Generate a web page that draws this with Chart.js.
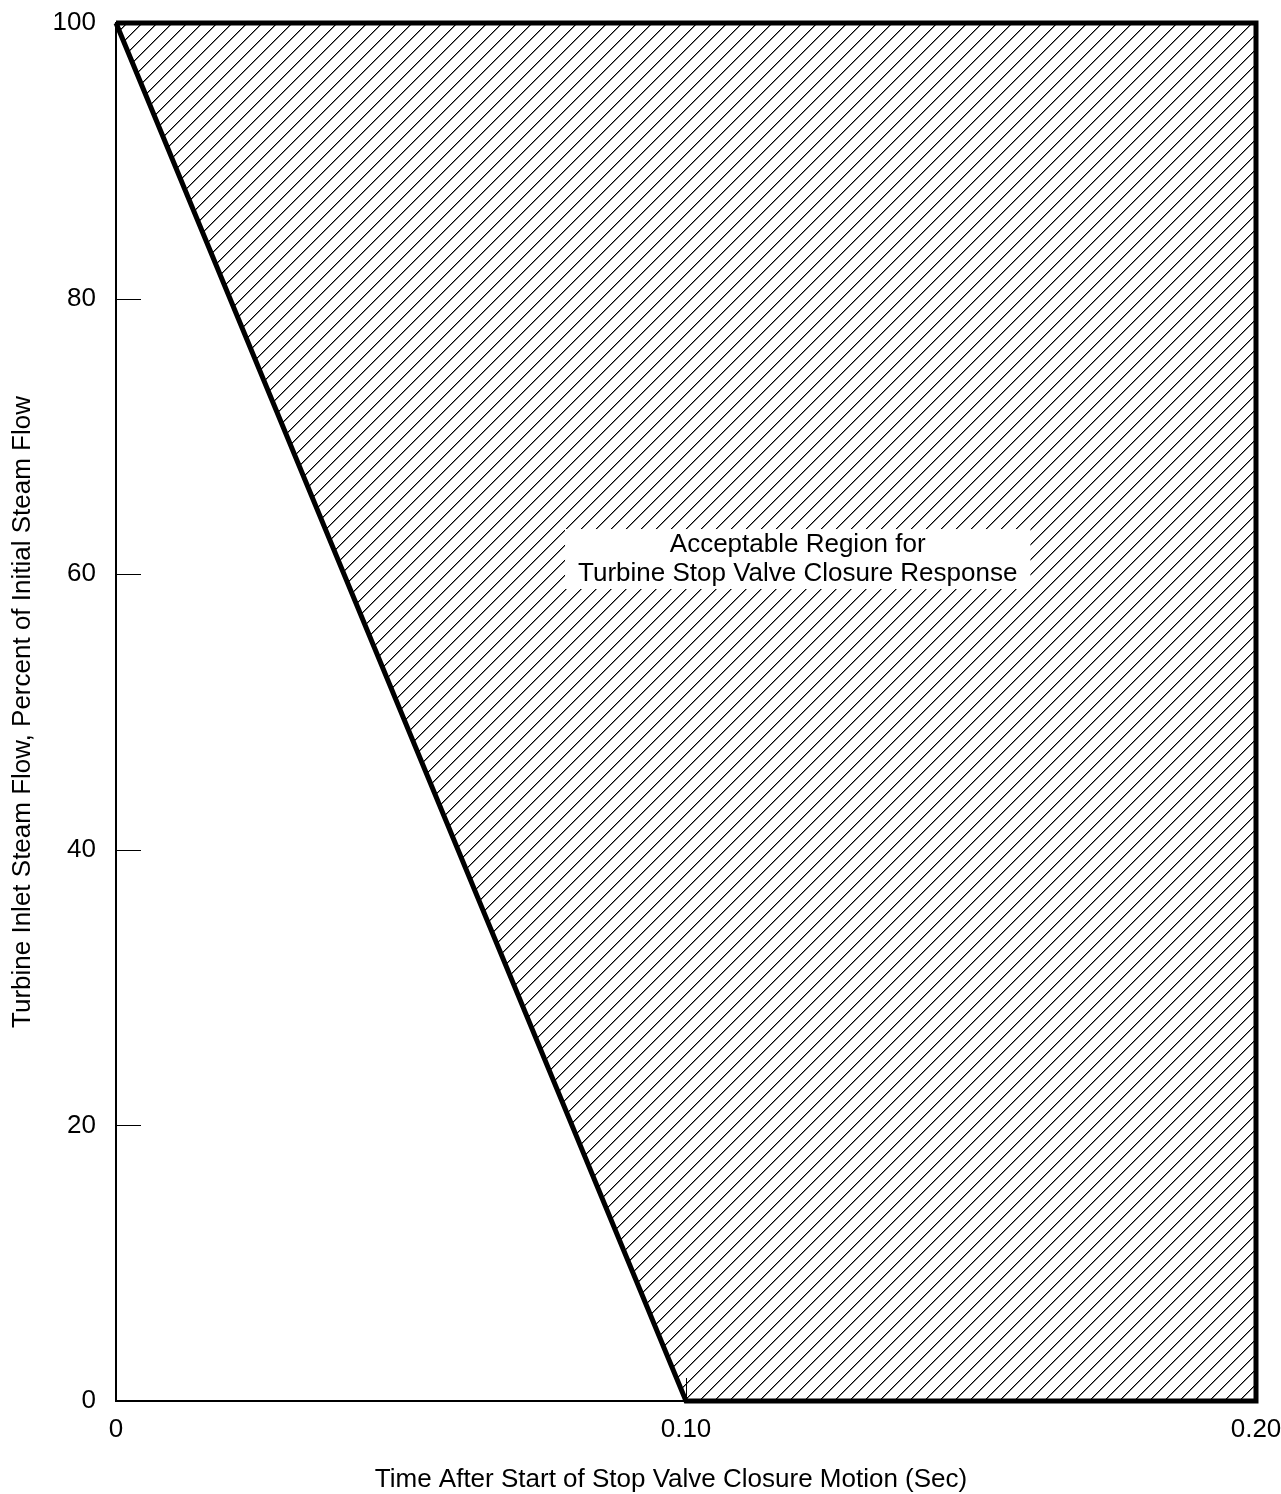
<!DOCTYPE html>
<html>
<head>
<meta charset="utf-8">
<script src="https://cdn.jsdelivr.net/npm/chart.js@4/dist/chart.umd.min.js"></script>
<style>
  html, body { margin: 0; padding: 0; background: #fff; }
  #wrap { width: 1281px; height: 1494px; position: relative; }
</style>
</head>
<body>
<div id="wrap"><canvas id="c" width="1281" height="1494"></canvas></div>
<script>
// Boundary of the acceptable closure-response region (time in s, flow in %)
const regionTime = [0, 0.20, 0.20, 0.10, 0];
const regionFlow = [100, 100, 0, 0, 100];

// Axis ticks
const timeTicks = [0, 0.10, 0.20];
const timeTickLabels = ['0', '0.10', '0.20'];
const flowTicks = [0, 20, 40, 60, 80, 100];
const flowTickLabels = ['0', '20', '40', '60', '80', '100'];

// Texts
const xTitle = 'Time After Start of Stop Valve Closure Motion (Sec)';
const yTitle = 'Turbine Inlet Steam Flow, Percent of Initial Steam Flow';
const regionLabel = ['Acceptable Region for', 'Turbine Stop Valve Closure Response'];
const regionLabelAt = { x: 0.1196, y: 61.1 };

const FONT = '"Liberation Sans", Arial, Helvetica, sans-serif';
const FSIZE = 26;

// Diagonal hatch pattern
function makeHatch() {
  const p = 15;
  const tile = document.createElement('canvas');
  tile.width = p; tile.height = p;
  const t = tile.getContext('2d');
  for (let i = 0; i < p; i++) {
    t.fillStyle = '#000';
    t.fillRect(i, p - 1 - i, 1, 1);
    t.fillStyle = 'rgba(0,0,0,0.5)';
    t.fillRect((i + 1) % p, p - 1 - i, 1, 1);
  }
  return document.getElementById('c').getContext('2d').createPattern(tile, 'repeat');
}

const points = regionTime.map((x, i) => ({ x, y: regionFlow[i] }));

// Inward tick marks on both axes
const inwardTicks = {
  id: 'inwardTicks',
  afterDatasetsDraw(chart) {
    const { ctx, scales: { x, y } } = chart;
    ctx.save();
    ctx.strokeStyle = '#000';
    ctx.lineWidth = 1;
    flowTicks.forEach(v => {
      const py = Math.round(y.getPixelForValue(v)) + 0.5;
      ctx.beginPath();
      ctx.moveTo(x.left, py);
      ctx.lineTo(x.left + 25, py);
      ctx.stroke();
    });
    timeTicks.forEach(v => {
      const px = Math.round(x.getPixelForValue(v)) + 0.5;
      ctx.beginPath();
      ctx.moveTo(px, y.bottom);
      ctx.lineTo(px, y.bottom - 23);
      ctx.stroke();
    });
    ctx.restore();
  }
};

// Boxed label inside the hatched region
const regionText = {
  id: 'regionText',
  afterDatasetsDraw(chart) {
    const { ctx, scales: { x, y } } = chart;
    const cx = x.getPixelForValue(regionLabelAt.x);
    const cy = y.getPixelForValue(regionLabelAt.y);
    ctx.save();
    ctx.font = FSIZE + 'px ' + FONT;
    const w = Math.max(...regionLabel.map(s => ctx.measureText(s).width)) + 26;
    const h = 60;
    ctx.fillStyle = '#fff';
    ctx.fillRect(cx - w / 2, cy - h / 2, w, h);
    ctx.fillStyle = '#000';
    ctx.textAlign = 'center';
    ctx.textBaseline = 'middle';
    ctx.fillText(regionLabel[0], cx, cy - 14);
    ctx.fillText(regionLabel[1], cx, cy + 15);
    ctx.restore();
  }
};

// Horizontal axis title
const xAxisTitle = {
  id: 'xAxisTitle',
  afterDraw(chart) {
    const { ctx, chartArea } = chart;
    ctx.save();
    ctx.font = FSIZE + 'px ' + FONT;
    ctx.fillStyle = '#000';
    ctx.textAlign = 'center';
    ctx.textBaseline = 'middle';
    ctx.fillText(xTitle, chartArea.left + 555, chartArea.bottom + 79);
    ctx.restore();
  }
};

new Chart(document.getElementById('c'), {
  type: 'scatter',
  data: {
    datasets: [{
      data: points,
      showLine: true,
      fill: 'shape',
      backgroundColor: makeHatch(),
      borderColor: '#000',
      borderWidth: 5,
      borderJoinStyle: 'miter',
      pointRadius: 0,
      tension: 0,
      clip: 10
    }]
  },
  options: {
    responsive: false,
    animation: false,
    devicePixelRatio: 1,
    layout: { padding: { top: 23, right: 25, left: 0, bottom: 0 } },
    plugins: {
      legend: { display: false },
      tooltip: { enabled: false }
    },
    scales: {
      x: {
        type: 'linear',
        min: 0,
        max: 0.20,
        afterBuildTicks(scale) { scale.ticks = timeTicks.map(v => ({ value: v })); },
        ticks: {
          callback: (v) => timeTickLabels[timeTicks.findIndex(t => Math.abs(t - v) < 1e-9)],
          font: { size: FSIZE, family: FONT },
          color: '#000',
          padding: 13,
          maxRotation: 0,
          autoSkip: false
        },
        grid: { display: false, drawTicks: false },
        border: { display: true, color: '#000', width: 2 },
        afterFit(scale) {
          scale.height = 93;
          scale.paddingLeft = 0;
          scale.paddingRight = 0;
        }
      },
      y: {
        type: 'linear',
        min: 0,
        max: 100,
        afterBuildTicks(scale) { scale.ticks = flowTicks.map(v => ({ value: v })); },
        ticks: {
          callback: (v) => flowTickLabels[flowTicks.indexOf(v)],
          font: { size: FSIZE, family: FONT },
          color: '#000',
          padding: 20
        },
        grid: { display: false, drawTicks: false },
        border: { display: true, color: '#000', width: 2 },
        title: {
          display: true,
          text: yTitle,
          font: { size: FSIZE, family: FONT },
          color: '#000',
          padding: { top: 7, bottom: 0 }
        },
        afterFit(scale) {
          scale.width = 116;
          scale.paddingTop = 0;
          scale.paddingBottom = 0;
        }
      }
    }
  },
  plugins: [inwardTicks, regionText, xAxisTitle]
});
</script>
</body>
</html>
